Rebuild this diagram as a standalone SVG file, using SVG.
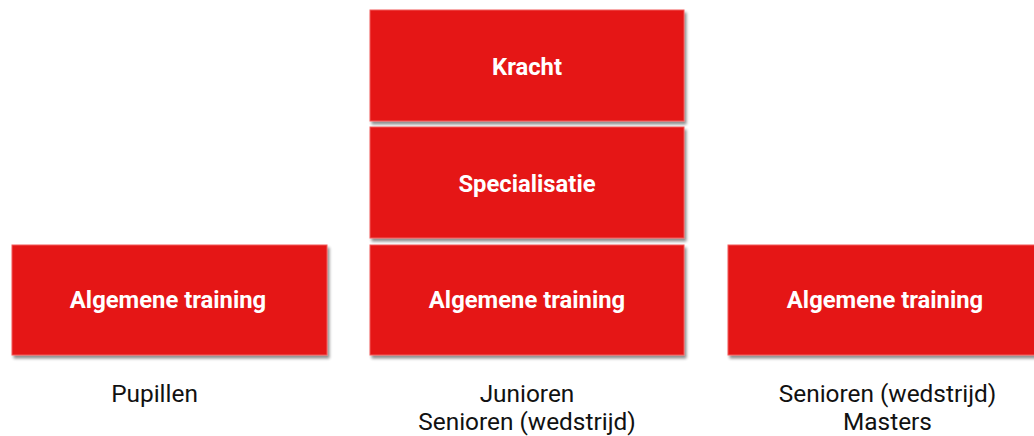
<svg xmlns="http://www.w3.org/2000/svg" width="1034" height="436" viewBox="0 0 1034 436">
<style>
.box{fill:#E51718;stroke:#F25A5A;stroke-width:1;filter:url(#sh)}
.bt{font-family:Roboto,"Liberation Sans",sans-serif;font-weight:bold;font-size:23.8px;fill:#fff;text-anchor:middle}
.lb{font-family:Roboto,"Liberation Sans",sans-serif;font-size:24.4px;fill:#111;text-anchor:middle}
</style>
<defs>
<filter id="sh" x="-5%" y="-10%" width="112%" height="125%">
<feGaussianBlur in="SourceAlpha" stdDeviation="1.5"/>
<feOffset dx="1.5" dy="2.5" result="b"/>
<feComponentTransfer><feFuncA type="linear" slope="0.45"/></feComponentTransfer>
<feMerge><feMergeNode/><feMergeNode in="SourceGraphic"/></feMerge>
</filter>
</defs>
<rect width="1034" height="436" fill="#fff"/>
<g id="connectors"/>
<g id="pupillen-algemeen">
<rect class="box" x="12" y="245" width="315" height="110"/>
<text class="bt" x="168" y="308">Algemene training</text>
</g>
<g id="kracht">
<rect class="box" x="370" y="10" width="314" height="111"/>
<text class="bt" x="527" y="74.5">Kracht</text>
</g>
<g id="specialisatie">
<rect class="box" x="370" y="127" width="314" height="111"/>
<text class="bt" x="527" y="191.5">Specialisatie</text>
</g>
<g id="junioren-algemeen">
<rect class="box" x="370" y="245" width="314" height="110"/>
<text class="bt" x="527" y="308">Algemene training</text>
</g>
<g id="masters-algemeen">
<rect class="box" x="728" y="245" width="315" height="110"/>
<text class="bt" x="885" y="308">Algemene training</text>
</g>
<g id="labels">
<text class="lb" x="154.5" y="401.5">Pupillen</text>
<text class="lb" x="527" y="401.5">Junioren</text>
<text class="lb" x="527" y="430">Senioren (wedstrijd)</text>
<text class="lb" x="887.5" y="401.5">Senioren (wedstrijd)</text>
<text class="lb" x="887.5" y="430">Masters</text>
</g>
</svg>
